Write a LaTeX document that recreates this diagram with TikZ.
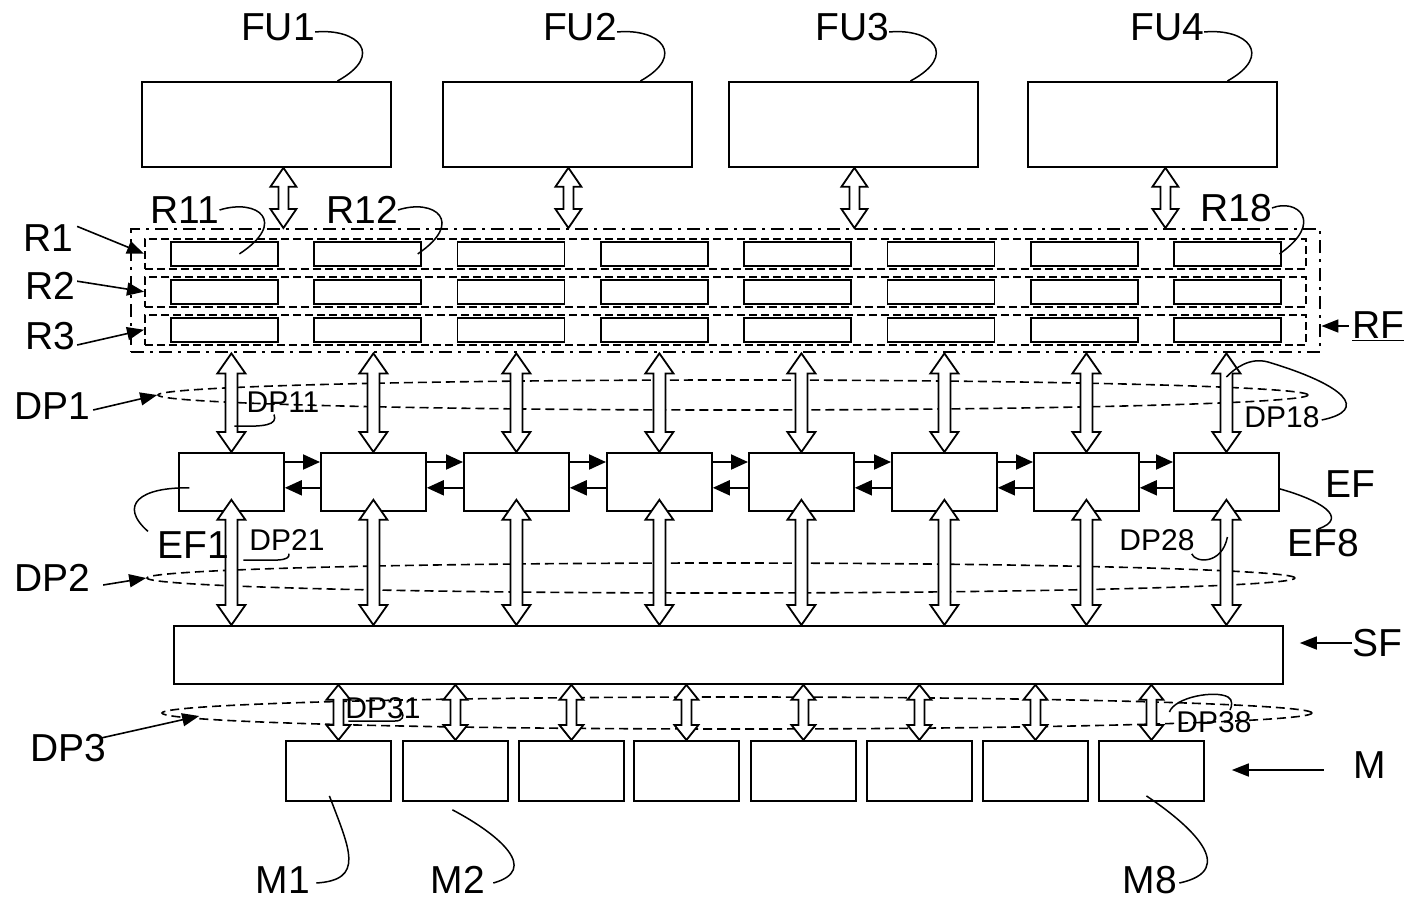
\documentclass[tikz,border=0pt]{standalone}
\usepackage{fontspec}
\setmainfont{Liberation Sans}
\usetikzlibrary{arrows.meta,calc,shapes.geometric}
\newcommand{\hollowarrow}[5]{%
  \draw[harrow] let \p1=(#1), \p2=(#2) in
   (\x1,\y1) -- (\x1+#4pt,\y1-#5pt) -- (\x1+#3pt,\y1-#5pt) -- (\x1+#3pt,\y2+#5pt)
   -- (\x1+#4pt,\y2+#5pt) -- (\x1,\y2) -- (\x1-#4pt,\y2+#5pt) -- (\x1-#3pt,\y2+#5pt)
   -- (\x1-#3pt,\y1-#5pt) -- (\x1-#4pt,\y1-#5pt) -- cycle;}
\begin{document}
\begin{tikzpicture}[x=1pt,y=-1pt,
  box/.style={draw,line width=1.8pt,inner sep=0,anchor=north west},
  fubox/.style={box,minimum width=249pt,minimum height=85pt},
  reg/.style={box,minimum width=107pt,minimum height=24pt},
  rowbox/.style={draw,line width=1.5pt,dash pattern=on 8pt off 4pt,inner sep=0,anchor=north west,minimum width=1161pt,minimum height=30pt},
  rfbox/.style={draw,line width=2.4pt,dash pattern=on 13pt off 6pt on 3pt off 6pt,inner sep=0,anchor=north west,minimum width=1189pt,minimum height=123pt},
  efbox/.style={box,minimum width=105pt,minimum height=58pt},
  membox/.style={box,minimum width=105pt,minimum height=60pt},
  ell/.style={ellipse,draw,line width=1.6pt,dash pattern=on 9pt off 5pt,inner sep=0},
  harrow/.style={draw,fill=white,line width=1.8pt,line join=miter},
  big/.style={inner sep=0,font=\fontsize{39}{42}\selectfont},
  small/.style={inner sep=0,font=\fontsize{30}{32}\selectfont},
  lbl/.style={line width=1.6pt,-{Triangle[length=17pt,width=13pt]}},
  efarr/.style={line width=2pt,-{Triangle[length=17pt,width=15pt]}},
  lead/.style={line width=1.5pt}]
\useasboundingbox (0,0) rectangle (1412,899);

% FU boxes
\node[fubox] (FU1) at (141,81) {};
\node[fubox] (FU2) at (442,81) {};
\node[fubox] (FU3) at (728,81) {};
\node[fubox] (FU4) at (1027,81) {};
\node[big] (lFU1) at (278,27) {FU1};
\node[big] (lFU2) at (580,27) {FU2};
\node[big] (lFU3) at (852,27) {FU3};
\node[big] (lFU4) at (1167,27) {FU4};
\draw[lead] ([yshift=-5pt]lFU1.east) .. controls (358,28) and (385,55) .. ([xshift=71pt]FU1.north);
\draw[lead] ([yshift=-5pt]lFU2.east) .. controls (660,28) and (687,55) .. ([xshift=73pt]FU2.north);
\draw[lead] ([yshift=-5pt]lFU3.east) .. controls (932,28) and (959,55) .. ([xshift=57pt]FU3.north);
\draw[lead] ([yshift=-5pt]lFU4.east) .. controls (1247,28) and (1274,55) .. ([xshift=75pt]FU4.north);

% register file
\node[rfbox] (RFbox) at (130,228) {};
\node[rowbox] (row1) at (144,238) {};
\node[rowbox] (row2) at (144,276) {};
\node[rowbox] (row3) at (144,314) {};
\foreach \r/\yy in {1/241,2/279,3/317}{
  \foreach \i in {1,...,8}{
    \node[reg] (R\r\i) at ({170+143.3*(\i-1)},\yy) {};
  }
}
\node[big] (lR11) at (185,210) {R11};
\node[big] (lR12) at (362,210) {R12};
\node[big] (lR18) at (1236,208) {R18};
\draw[lead] (lR11.east) .. controls (258,198) and (288,222) .. ([xshift=15pt]R11.center);
\draw[lead] (lR12.east) .. controls (435,198) and (465,222) .. ([xshift=50pt]R12.center);
\draw[lead] (lR18.east) .. controls (1297,198) and (1325,222) .. ([xshift=52pt]R18.center);
\node[big] (lR1) at (48,238) {R1};
\node[big] (lR2) at (50,286) {R2};
\node[big] (lR3) at (50,336) {R3};
\draw[lbl] ([xshift=4pt,yshift=-2pt]lR1.north east) -- (row1.west);
\draw[lbl] ([xshift=2pt,yshift=-9pt]lR2.north east) -- (row2.west);
\draw[lbl] ([xshift=2pt,yshift=5pt]lR3.south east) -- (row3.west);
\node[big] (lRF) at (1378,326) {\underline{RF}};
\draw[lbl] ([xshift=-3pt]lRF.west) -- (RFbox.east |- lRF.west);

% FU <-> RF arrows
\coordinate (f1) at ([xshift=17pt]FU1.south);
\coordinate (f2) at ([xshift=1pt]FU2.south);
\coordinate (f3) at ([xshift=1pt]FU3.south);
\coordinate (f4) at ([xshift=13pt]FU4.south);
\foreach \k in {1,...,4}{
  \hollowarrow{f\k}{f\k |- RFbox.north}{5}{13}{19}
}

% execution units
\foreach \i/\xx in {1/178,2/320,3/463,4/606,5/748,6/891,7/1033,8/1173}{
  \node[efbox] (EF\i) at (\xx,452) {};
}
\foreach \i [evaluate=\i as \j using int(\i+1)] in {1,...,7}{
  \draw[efarr] ([yshift=-10pt]EF\i.north east) -- ([yshift=-10pt]EF\j.north west);
  \draw[efarr] ([yshift=24pt]EF\j.south west) -- ([yshift=24pt]EF\i.south east);
}

% ellipses
\node[ell,minimum width=1150pt,minimum height=30pt] (DP1e) at (733,395) {};
\node[ell,minimum width=1148pt,minimum height=30pt] (DP2e) at (721,578) {};
\node[ell,minimum width=1150pt,minimum height=32pt] (DP3e) at (737,713) {};

% RF <-> EF arrows
\foreach \i in {1,...,8}{
  \hollowarrow{EF\i.north |- RFbox.south}{EF\i.north}{6}{14}{20}
}
% EF <-> SF arrows
\node[box,minimum width=1109pt,minimum height=58pt] (SF) at (173,625) {};
\foreach \i in {1,...,8}{
  \hollowarrow{[yshift=12pt]EF\i.south}{EF\i.south |- SF.north}{6}{14}{20}
}

% memories
\foreach \i/\xx in {1/285,2/402,3/518,4/633,5/750,6/866,7/982,8/1098}{
  \node[membox] (M\i) at (\xx,740) {};
}
\foreach \i in {1,...,8}{
  \hollowarrow{M\i.north |- SF.south}{M\i.north}{5}{12}{15}
}

% labels
\node[big] (lDP1) at (52,406) {DP1};
\draw[lbl] ([xshift=3pt,yshift=-4pt]lDP1.east) -- (DP1e.west);
\node[big] (lDP2) at (52,578) {DP2};
\draw[lbl] ([xshift=13pt,yshift=-7pt]lDP2.east) -- (DP2e.west);
\node[big] (lDP3) at (68,748) {DP3};
\draw[lbl] ([xshift=-5pt,yshift=-4pt]lDP3.north east) -- ([xshift=38pt,yshift=-3pt]DP3e.west);
\node[big] (lEF1) at (193,545) {EF1};
\node[big] (lEF) at (1350,484) {EF};
\node[big] (lEF8) at (1323,543) {EF8};
\node[big] (lSF) at (1377,643) {SF};
\draw[lbl] (lSF.west) -- ([xshift=16pt]SF.east |- lSF.west);
\node[big] (lM) at (1370,765) {M};
\draw[lbl] ([xshift=-30pt,yshift=-5pt]lM.west) -- ([xshift=27pt,yshift=-5pt]M8.east |- lM.west);
\node[big] (lM1) at (283,880) {M1};
\node[big] (lM2) at (458,880) {M2};
\node[big] (lM8) at (1150,880) {M8};

\node[small] (lDP11) at (283,402) {DP11};
\node[small] (lDP18) at (1282,417) {DP18};
\node[small] (lDP21) at (287,540) {DP21};
\node[small] (lDP28) at (1157,540) {DP28};
\node[small] (lDP31) at (383,708) {DP31};
\node[small] (lDP38) at (1214,722) {DP38};

% leaders
\draw[lead] ([xshift=-42pt,yshift=-6pt]EF1.center) .. controls (140,487) and (118,505) .. ([xshift=-45pt]lEF1.north);
\draw[lead] ([yshift=-7pt]EF8.east) .. controls (1320,500) and (1350,518) .. ([xshift=-5pt]lEF8.north);
\draw[lead] ([xshift=-9pt,yshift=-2pt]lDP11.south) .. controls (278,425) and (265,427) .. ([xshift=3pt]EF1.north |- 0,426);
\draw[lead] ([xshift=2pt,yshift=-3pt]lDP18.east) .. controls (1370,410) and (1345,385) .. (1268,362) .. controls (1250,357) and (1235,368) .. ([xshift=0pt]EF8.north |- 0,377);
\draw[lead] ([xshift=2pt,yshift=-3pt]lDP21.south) .. controls (290,562) and (275,560) .. ([xshift=12pt]EF1.south |- 0,560);
\draw[lead] ([xshift=-3pt,yshift=-3pt]lDP28.south east) .. controls (1195,563) and (1222,565) .. ([xshift=1pt]EF8.south |- 0,537);
\draw[lead] ([xshift=10pt]M1.north |- 0,721) -- (395,721) .. controls (403,721) and (404,716) .. (402,712);
\draw[lead] ([xshift=18pt]M8.north |- 0,712) .. controls (1175,697) and (1215,690) .. (1228,697) .. controls (1233,700) and (1232,706) .. (1230,710);
\draw[lead] ([xshift=-9pt,yshift=-25pt]M1.center) .. controls (350,850) and (365,880) .. ([xshift=6pt,yshift=-3pt]lM1.east);
\draw[lead] ([xshift=-3pt,yshift=-8pt]M2.south) .. controls (500,835) and (540,870) .. ([xshift=8pt,yshift=-3pt]lM2.east);
\draw[lead] ([xshift=-5pt,yshift=-25pt]M8.center) .. controls (1190,825) and (1240,870) .. ([xshift=2pt,yshift=-3pt]lM8.east);
\end{tikzpicture}
\end{document}
